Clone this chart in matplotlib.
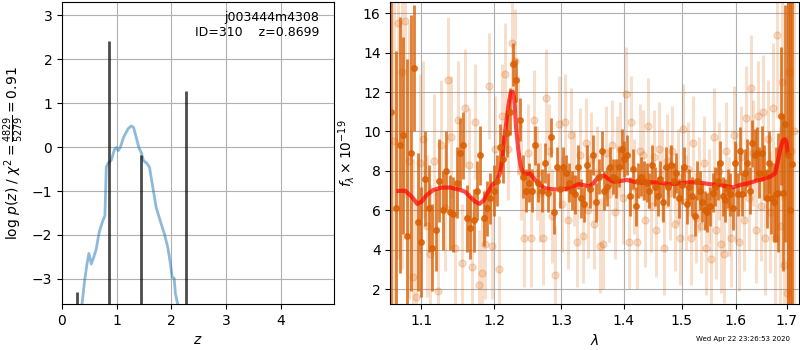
import matplotlib
matplotlib.use('Agg')
import matplotlib.pyplot as plt
from matplotlib.ticker import FixedLocator, NullLocator, FormatStrFormatter

# ---- p(z) panel ----
pz_z = [0.33, 0.365, 0.413, 0.456, 0.492, 0.535, 0.578, 0.626, 0.657, 0.687, 0.748,
        0.784, 0.809, 0.839, 0.900, 0.960, 0.991, 1.027, 1.064, 1.125, 1.204, 1.264,
        1.307, 1.356, 1.404, 1.447, 1.489, 1.550, 1.599, 1.660, 1.720, 1.793, 1.872,
        1.933, 1.982, 2.012, 2.049, 2.073, 2.116, 2.16]
pz_logp = [-4.0, -3.58, -3.04, -2.66, -2.42, -2.66, -2.51, -2.32, -2.09, -1.90, -1.67,
           -1.56, -0.46, -0.37, -0.30, -0.05, -0.01, -0.08, -0.01, 0.22, 0.41, 0.48,
           0.45, 0.22, -0.01, -0.12, -0.31, -0.37, -0.46, -0.92, -1.37, -1.67, -1.98,
           -2.28, -2.66, -2.96, -2.98, -3.34, -3.58, -4.0]
peak_z = [0.274, 0.857, 1.441, 2.273]
peak_top = [-3.30, 2.41, -0.17, 1.28]

# ---- spectrum panel: beam A (dark) ----
lam_a = [1.0610, 1.0677, 1.0724, 1.0771, 1.0818, 1.0865, 1.0912, 1.0959, 1.1006, 1.1053,
         1.1100, 1.1147, 1.1194, 1.1241, 1.1288, 1.1335, 1.1382, 1.1429, 1.1476, 1.1523,
         1.1570, 1.1617, 1.1664, 1.1711, 1.1758, 1.1805, 1.1852, 1.1899, 1.1946, 1.1993,
         1.2040, 1.2087, 1.2134, 1.2181, 1.2228, 1.2275, 1.2322, 1.2369, 1.2416, 1.2463,
         1.2510, 1.2557, 1.2604, 1.2651, 1.2698, 1.2745, 1.2792, 1.2839, 1.2886, 1.2933,
         1.2980, 1.3027, 1.3074, 1.3121, 1.3168, 1.3215, 1.3262, 1.3309, 1.3356, 1.3403,
         1.3450, 1.3497, 1.3544, 1.3591, 1.3638, 1.3685, 1.3732, 1.3779, 1.3826, 1.3873,
         1.3920, 1.3967, 1.4014, 1.4061, 1.4108, 1.4155, 1.4202, 1.4249, 1.4296, 1.4343,
         1.4390, 1.4437, 1.4484, 1.4531, 1.4578, 1.4625, 1.4672, 1.4719, 1.4766, 1.4813,
         1.4860, 1.4907, 1.4954, 1.5001, 1.5048, 1.5095, 1.5142, 1.5189, 1.5236, 1.5283,
         1.5330, 1.5377, 1.5424, 1.5471, 1.5518, 1.5565, 1.5612, 1.5659, 1.5706, 1.5753,
         1.5800, 1.5847, 1.5894, 1.5941, 1.5988, 1.6035, 1.6082, 1.6129, 1.6176, 1.6223,
         1.6270, 1.6317, 1.6364, 1.6411, 1.6458, 1.6505, 1.6552, 1.6599, 1.6646, 1.6693,
         1.6740, 1.6787, 1.6834, 1.6881, 1.6928, 1.6975, 1.7022, 1.7069, 1.7116]
flux_a = [11.0, 6.1, 9.3, 9.8, 4.7, 8.9, 13.2, 5.4, 4.4, 7.6,
          6.1, 4.1, 5.0, 7.5, 6.0, 8.0, 5.9, 5.8, 7.4, 8.9,
          9.3, 5.6, 5.1, 5.5, 7.0, 8.8, 5.6, 6.1, 6.6, 7.0,
          7.5, 9.2, 8.6, 9.9, 11.0, 13.4, 12.6, 10.6, 7.7, 7.0,
          7.4, 7.0, 9.3, 7.4, 7.0, 8.4, 6.9, 9.7, 5.9, 8.2,
          7.1, 8.2, 7.9, 7.4, 7.0, 6.8, 8.2, 6.6, 6.3, 8.3,
          7.1, 8.8, 6.4, 7.7, 9.0, 7.0, 7.2, 8.2, 7.7, 7.6,
          8.2, 9.1, 8.6, 8.8, 6.7, 8.1, 6.2, 7.5, 7.7, 7.5,
          7.4, 7.0, 8.3, 7.2, 6.7, 7.6, 6.4, 8.2, 7.2, 8.3,
          7.5, 7.9, 6.6, 7.3, 8.2, 6.3, 7.2, 6.7, 5.7, 7.5,
          7.0, 6.4, 6.0, 5.9, 6.2, 6.9, 7.2, 7.5, 8.4, 6.7,
          6.5, 7.1, 6.8, 6.1, 8.4, 6.8, 9.0, 6.8, 7.9, 8.4,
          7.0, 9.4, 8.8, 8.9, 7.9, 8.9, 7.9, 6.6, 8.4, 6.6,
          6.4, 6.8, 6.9, 10.8, 6.9, 10.4, 8.8, 6.0, 8.35]
err_a = [12.0, 8.0, 6.5, 5.0, 9.0, 7.0, 3.2, 3.5, 2.8, 2.4,
         2.2, 2.2, 2.1, 2.1, 2.0, 2.0, 1.9, 1.9, 1.8, 1.8,
         1.7, 1.7, 1.6, 1.6, 1.5, 1.5, 1.4, 1.4, 1.3, 1.3,
         1.3, 1.2, 1.2, 1.2, 1.2, 1.1, 1.1, 1.1, 1.1, 1.1,
         1.0, 1.1, 1.0, 1.0, 1.1, 1.0, 1.0, 1.0, 1.1, 1.0,
         1.0, 1.0, 0.9, 1.0, 1.0, 1.0, 1.1, 1.0, 0.9, 1.0,
         1.0, 1.0, 1.0, 0.9, 1.0, 1.0, 1.0, 1.0, 0.9, 1.0,
         1.0, 1.0, 0.9, 1.0, 1.0, 1.0, 1.0, 0.9, 1.0, 1.0,
         1.0, 0.9, 1.0, 1.0, 1.0, 0.9, 1.0, 1.0, 1.0, 1.0,
         0.9, 1.0, 1.0, 1.0, 1.0, 1.0, 0.9, 1.0, 1.0, 1.0,
         1.0, 1.0, 1.0, 1.0, 1.0, 1.0, 1.0, 1.0, 1.1, 1.0,
         1.1, 1.0, 1.1, 1.1, 1.1, 1.1, 1.2, 1.1, 1.2, 1.2,
         1.2, 1.2, 1.3, 1.3, 1.3, 1.4, 1.4, 1.5, 1.6, 1.8,
         2.0, 2.4, 3.0, 3.5, 4.0, 6.0, 10.0, 14.0, 16.0]

# ---- spectrum panel: beam B (light) ----
lam_b = [1.0654, 1.0701, 1.0748, 1.0795, 1.0842, 1.0889, 1.0936, 1.0983, 1.1030, 1.1077,
         1.1124, 1.1171, 1.1218, 1.1265, 1.1312, 1.1359, 1.1406, 1.1453, 1.1500, 1.1547,
         1.1594, 1.1641, 1.1688, 1.1735, 1.1782, 1.1829, 1.1876, 1.1923, 1.1970, 1.2017,
         1.2064, 1.2111, 1.2158, 1.2205, 1.2252, 1.2299, 1.2346, 1.2393, 1.2440, 1.2487,
         1.2534, 1.2581, 1.2628, 1.2675, 1.2722, 1.2769, 1.2816, 1.2863, 1.2910, 1.2957,
         1.3004, 1.3051, 1.3098, 1.3145, 1.3192, 1.3239, 1.3286, 1.3333, 1.3380, 1.3427,
         1.3474, 1.3521, 1.3568, 1.3615, 1.3662, 1.3709, 1.3756, 1.3803, 1.3850, 1.3897,
         1.3944, 1.3991, 1.4038, 1.4085, 1.4132, 1.4179, 1.4226, 1.4273, 1.4320, 1.4367,
         1.4414, 1.4461, 1.4508, 1.4555, 1.4602, 1.4649, 1.4696, 1.4743, 1.4790, 1.4837,
         1.4884, 1.4931, 1.4978, 1.5025, 1.5072, 1.5119, 1.5166, 1.5213, 1.5260, 1.5307,
         1.5354, 1.5401, 1.5448, 1.5495, 1.5542, 1.5589, 1.5636, 1.5683, 1.5730, 1.5777,
         1.5824, 1.5871, 1.5918, 1.5965, 1.6012, 1.6059, 1.6106, 1.6153, 1.6200, 1.6247,
         1.6294, 1.6341, 1.6388, 1.6435, 1.6482, 1.6529, 1.6576, 1.6623, 1.6670, 1.6717,
         1.6764, 1.6811, 1.6858, 1.6905, 1.6952, 1.6999, 1.7046, 1.7093, 1.7140]
flux_b = [9.5, 15.5, 13.0, 15.6, 8.5, 2.6, 1.6, 8.4, 9.6, 5.2,
          3.8, 8.5, 1.9, 9.3, 6.1, 12.6, 9.7, 4.1, 10.6, 3.3,
          11.2, 8.3, 3.1, 10.5, 2.2, 2.8, 4.3, 12.3, 4.2, 9.1,
          3.0, 10.8, 12.9, 9.1, 14.5, 13.6, 10.3, 8.0, 4.6, 8.9,
          4.6, 10.6, 7.9, 6.9, 4.6, 11.7, 9.0, 5.7, 2.7, 10.4,
          6.3, 10.5, 5.5, 9.8, 7.6, 4.4, 8.8, 4.7, 9.4, 6.0,
          8.6, 5.3, 7.9, 4.2, 4.3, 8.9, 6.8, 9.3, 5.9, 8.4,
          9.1, 6.6, 11.9, 4.4, 10.5, 7.2, 4.4, 9.0, 8.8, 5.5,
          10.3, 6.2, 8.7, 5.0, 9.1, 7.8, 4.1, 8.5, 6.9, 9.0,
          5.3, 7.7, 4.6, 10.1, 6.4, 8.1, 4.6, 9.4, 5.6, 7.3,
          5.2, 8.4, 4.1, 6.7, 3.5, 9.7, 5.0, 8.0, 4.3, 3.8,
          9.0, 6.2, 4.6, 9.8, 6.9, 4.4, 8.7, 5.5, 10.7, 6.6,
          12.2, 8.9, 5.0, 10.8, 6.2, 11.0, 4.6, 9.6, 5.9, 11.2,
          4.6, 14.9, 5.2, 12.5, 3.2, 1.8, 13.0, 9.0, 10.0]
err_b = [14.0, 12.0, 10.0, 9.0, 7.0, 6.0, 5.0, 4.5, 4.0, 3.6,
         3.5, 3.4, 3.3, 3.3, 3.2, 3.2, 3.1, 3.1, 3.0, 3.0,
         3.0, 2.9, 2.9, 2.9, 2.8, 2.8, 2.8, 2.7, 2.7, 2.7,
         2.7, 2.6, 2.6, 2.6, 2.6, 2.6, 2.5, 2.5, 2.5, 2.5,
         2.5, 2.5, 2.4, 2.5, 2.4, 2.5, 2.4, 2.4, 2.5, 2.4,
         2.4, 2.4, 2.5, 2.4, 2.4, 2.3, 2.4, 2.4, 2.3, 2.4,
         2.4, 2.3, 2.4, 2.4, 2.3, 2.4, 2.4, 2.3, 2.4, 2.4,
         2.4, 2.3, 2.4, 2.4, 2.3, 2.4, 2.4, 2.4, 2.3, 2.4,
         2.4, 2.3, 2.4, 2.4, 2.4, 2.3, 2.4, 2.4, 2.4, 2.3,
         2.4, 2.4, 2.4, 2.3, 2.4, 2.4, 2.4, 2.4, 2.3, 2.4,
         2.4, 2.4, 2.4, 2.4, 2.4, 2.5, 2.5, 2.5, 2.5, 2.5,
         2.5, 2.5, 2.5, 2.5, 2.5, 2.5, 2.6, 2.6, 2.6, 2.6,
         2.7, 2.7, 2.7, 2.8, 2.8, 2.9, 2.9, 3.0, 3.1, 3.3,
         3.6, 4.2, 5.0, 6.0, 7.0, 8.0, 10.0, 12.0, 14.0]

# ---- best-fit model ----
model_lam = [1.0708, 1.0793, 1.0878, 1.0952, 1.1009, 1.1074, 1.1163, 1.1274, 1.1386,
             1.1499, 1.1592, 1.1661, 1.1731, 1.1791, 1.1857, 1.1918, 1.1980, 1.2036,
             1.2084, 1.2122, 1.2156, 1.2204, 1.2239, 1.2268, 1.2293, 1.2317, 1.2351,
             1.2386, 1.2425, 1.2475, 1.2524, 1.2599, 1.2675, 1.2751, 1.2877, 1.3032,
             1.3162, 1.3267, 1.3346, 1.3442, 1.3506, 1.3587, 1.3679, 1.3750, 1.3832,
             1.3943, 1.4054, 1.4166, 1.4307, 1.4450, 1.4622, 1.4797, 1.4975, 1.5154,
             1.5335, 1.5519, 1.5705, 1.5861, 1.5956, 1.6083, 1.6243, 1.6405, 1.6536,
             1.6668, 1.6768, 1.6815, 1.6868, 1.6922, 1.6969, 1.7000, 1.7020]
model_flux = [6.98, 6.99, 6.69, 6.32, 6.44, 6.77, 7.03, 7.15, 7.15,
              7.06, 6.94, 6.69, 6.44, 6.32, 6.52, 6.94, 7.33, 7.45,
              7.87, 8.72, 9.91, 11.26, 11.97, 12.02, 11.60, 10.24, 9.06,
              8.21, 7.87, 7.84, 7.87, 7.54, 7.28, 7.11, 7.06, 7.06,
              7.16, 7.33, 7.28, 7.20, 7.37, 7.70, 7.76, 7.59, 7.45,
              7.48, 7.54, 7.45, 7.40, 7.42, 7.40, 7.32, 7.37, 7.42,
              7.40, 7.32, 7.28, 7.20, 7.16, 7.28, 7.37, 7.50, 7.59,
              7.70, 7.87, 8.37, 9.06, 9.53, 9.60, 9.40, 8.90]

lam_ticks = [1.1, 1.2, 1.3, 1.4, 1.5, 1.6, 1.7]

fig = plt.figure(figsize=(8, 3.5), dpi=100)

ax = fig.add_axes([0.0775, 0.1314, 0.34, 0.8629])
ax.plot(pz_z, pz_logp, color='tab:blue', alpha=0.5, lw=2)
ax.vlines(peak_z, -4, peak_top, color='k', alpha=0.7, lw=2)
ax.set_xlim(0, 4.97)
ax.set_ylim(-3.57, 3.30)
ax.set_xticks([0, 1, 2, 3, 4])
ax.set_yticks([-3, -2, -1, 0, 1, 2, 3])
ax.grid()
ax.set_xlabel('$z$')
ax.set_ylabel(r'log $p(z)$ / $\chi^2=\frac{4829}{5279}=0.91$')
ax.text(0.945, 0.97, 'j003444m4308\nID=310    z=0.8699', ha='right', va='top',
        transform=ax.transAxes, fontsize=9)

ax2 = fig.add_axes([0.4879, 0.1314, 0.5112, 0.8629])
ax2.errorbar(lam_b, flux_b, err_b, color='#d95f02', alpha=0.2, marker='o', ms=5,
             linestyle='none', elinewidth=2.2)
ax2.errorbar(lam_a, flux_a, err_a, color='#d95f02', alpha=0.8, marker='o', ms=4,
             linestyle='none', elinewidth=2)
ax2.plot(model_lam, model_flux, color='r', alpha=0.7, lw=3)
ax2.set_xscale('log')
ax2.set_xlim(1.0605, 1.7258)
ax2.set_ylim(1.24, 16.57)
ax2.xaxis.set_major_locator(FixedLocator(lam_ticks))
ax2.xaxis.set_major_formatter(FormatStrFormatter('%.1f'))
ax2.xaxis.set_minor_locator(NullLocator())
ax2.set_yticks([2, 4, 6, 8, 10, 12, 14, 16])
ax2.grid()
ax2.set_xlabel(r'$\lambda$')
ax2.set_ylabel(r'$f_\lambda \times 10^{-19}$')

fig.text(0.9875, 0.031, 'Wed Apr 22 23:26:53 2020', ha='right', va='center', fontsize=5)

fig.savefig('out.png', dpi=100)
